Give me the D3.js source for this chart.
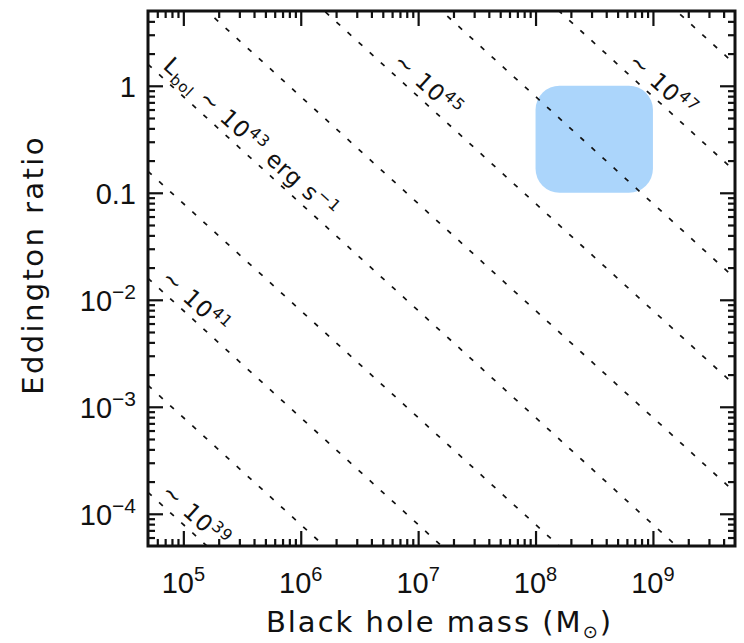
<!DOCTYPE html>
<html>
<head>
<meta charset="utf-8">
<script src="https://cdn.jsdelivr.net/npm/d3@7"></script>
<style>
body { margin: 0; background: #fff; }
text { fill: #111; }
</style>
</head>
<body>
<div id="chart"></div>
<script>
// axis ranges
var massExtent = [5e4, 5e9];
var ratioExtent = [5e-5, 5];

// constant luminosity lines, L = 1.26e38 * M * ratio
var lumPowers = [39, 40, 41, 42, 43, 44, 45, 46, 47, 48];
var labelPowers = [39, 41, 43, 45, 47];
var labelMass = [5.8e4, 5.8e4, 6e4, 5.5e6, 5.5e8];

// highlighted region
var boxMass = [1e8, 1e9];
var boxRatio = [0.1, 1];

// ticks
var xMajor = [1e5, 1e6, 1e7, 1e8, 1e9];
var xTickBase = ["10", "10", "10", "10", "10"];
var xTickExp = ["5", "6", "7", "8", "9"];
var yMajor = [1e-4, 1e-3, 1e-2, 0.1, 1];
var yTickBase = ["10", "10", "10", "0.1", "1"];
var yTickExp = ["\u22124", "\u22123", "\u22122", "", ""];

var C = 1.26e38;

var padL = 148, padR = 735, padT = 11, padB = 546;

var svg = d3.select("#chart").append("svg")
	.attr("width", 744)
	.attr("height", 643);

var x = d3.scaleLog().domain(massExtent).range([padL, padR]);
var y = d3.scaleLog().domain(ratioExtent).range([padB, padT]);

svg.append("clipPath").attr("id", "plot")
	.append("rect")
	.attr("x", padL).attr("y", padT)
	.attr("width", padR - padL).attr("height", padB - padT);

// blue box
svg.append("rect")
	.attr("x", x(boxMass[0]))
	.attr("y", y(boxRatio[1]))
	.attr("width", x(boxMass[1]) - x(boxMass[0]))
	.attr("height", y(boxRatio[0]) - y(boxRatio[1]))
	.attr("rx", 24)
	.attr("fill", "#abd5fb");

// dashed lines
var line = d3.line()
	.x(function(d) { return x(d[0]); })
	.y(function(d) { return y(d[1]); });

function pts(p) {
	return massExtent.map(function(m) { return [m, Math.pow(10, p) / (C * m)]; });
}

svg.append("g")
	.attr("clip-path", "url(#plot)")
	.selectAll("path")
	.data(lumPowers)
	.enter()
	.append("path")
	.attr("d", function(p) { return line(pts(p)); })
	.attr("fill", "none")
	.attr("stroke", "#111")
	.attr("stroke-width", 1.7)
	.attr("stroke-dasharray", "5,10");

// line labels
var p0 = pts(40);
var angle = Math.atan2(y(p0[1][1]) - y(p0[0][1]), x(p0[1][0]) - x(p0[0][0])) * 180 / Math.PI;

labelPowers.forEach(function(p, i) {
	var m = labelMass[i];
	var lam = Math.pow(10, p) / (C * m);
	var t = svg.append("text")
		.attr("transform", "translate(" + x(m) + "," + y(lam) + ") rotate(" + angle + ")")
		.attr("y", -7)
		.style("font-family", "DejaVu Sans")
		.style("font-size", "23px")
		.style("letter-spacing", "1px");
	if (p == 43) {
		t.append("tspan").text("L");
		t.append("tspan").attr("dy", 5).style("font-size", "15px").text("bol");
		t.append("tspan").attr("dy", -5).text(" \u223c 10");
		t.append("tspan").attr("dy", -9).style("font-size", "16px").text(p);
		t.append("tspan").attr("dy", 9).text(" erg s");
		t.append("tspan").attr("dy", -9).style("font-size", "16px").text("\u22121");
	} else {
		t.append("tspan").text("\u223c 10");
		t.append("tspan").attr("dy", -9).style("font-size", "16px").text(p);
	}
});

// minor ticks
function minors(ext) {
	var out = [];
	for (var k = Math.floor(Math.log10(ext[0])); k <= Math.ceil(Math.log10(ext[1])); k++) {
		for (var j = 2; j <= 9; j++) {
			var v = j * Math.pow(10, k);
			if (v > ext[0] && v < ext[1]) out.push(v);
		}
	}
	return out;
}

function drawAxis(axisFn, scale, major, minor, tx, ty) {
	var g1 = svg.append("g").attr("transform", "translate(" + tx + "," + ty + ")")
		.call(axisFn(scale).tickValues(major).tickSize(-15).tickFormat(""));
	var g2 = svg.append("g").attr("transform", "translate(" + tx + "," + ty + ")")
		.call(axisFn(scale).tickValues(minor).tickSize(-7).tickFormat(""));
	[g1, g2].forEach(function(g) {
		g.select(".domain").remove();
		g.selectAll(".tick text").remove();
		g.selectAll(".tick line").attr("stroke", "#111").attr("stroke-width", 2.2);
	});
}

drawAxis(d3.axisBottom, x, xMajor, minors(massExtent), 0, padB);
drawAxis(d3.axisTop, x, xMajor, minors(massExtent), 0, padT);
drawAxis(d3.axisLeft, y, yMajor, minors(ratioExtent), padL, 0);
drawAxis(d3.axisRight, y, yMajor, minors(ratioExtent), padR, 0);

svg.append("rect")
	.attr("x", padL).attr("y", padT)
	.attr("width", padR - padL).attr("height", padB - padT)
	.attr("fill", "none")
	.attr("stroke", "#111")
	.attr("stroke-width", 3);

// tick labels
xMajor.forEach(function(v, i) {
	var t = svg.append("text")
		.attr("x", x(v)).attr("y", 593)
		.attr("text-anchor", "middle")
		.style("font-family", "Liberation Sans")
		.style("font-size", "29px");
	t.append("tspan").text(xTickBase[i]);
	t.append("tspan").attr("dy", -12).style("font-size", "20px").text(xTickExp[i]);
});

yMajor.forEach(function(v, i) {
	var t = svg.append("text")
		.attr("x", 136).attr("y", y(v) + 11)
		.attr("text-anchor", "end")
		.style("font-family", "Liberation Sans")
		.style("font-size", "29px");
	t.append("tspan").text(yTickBase[i]);
	if (yTickExp[i]) t.append("tspan").attr("dy", -12).style("font-size", "21px").text(yTickExp[i]);
});

// axis titles
var xt = svg.append("text")
	.attr("x", (padL + padR) / 2 - 2).attr("y", 632)
	.attr("text-anchor", "middle")
	.style("font-family", "DejaVu Sans")
	.style("font-size", "29px")
	.style("letter-spacing", "2px");
xt.append("tspan").text("Black hole mass (M");
xt.append("tspan").attr("dy", 6).style("font-size", "18px").text("\u2299");
xt.append("tspan").attr("dy", -6).text(")");

svg.append("text")
	.attr("transform", "translate(43,265) rotate(-90)")
	.attr("text-anchor", "middle")
	.style("font-family", "DejaVu Sans")
	.style("font-size", "29px")
	.style("letter-spacing", "2.4px")
	.text("Eddington ratio");
</script>
</body>
</html>
